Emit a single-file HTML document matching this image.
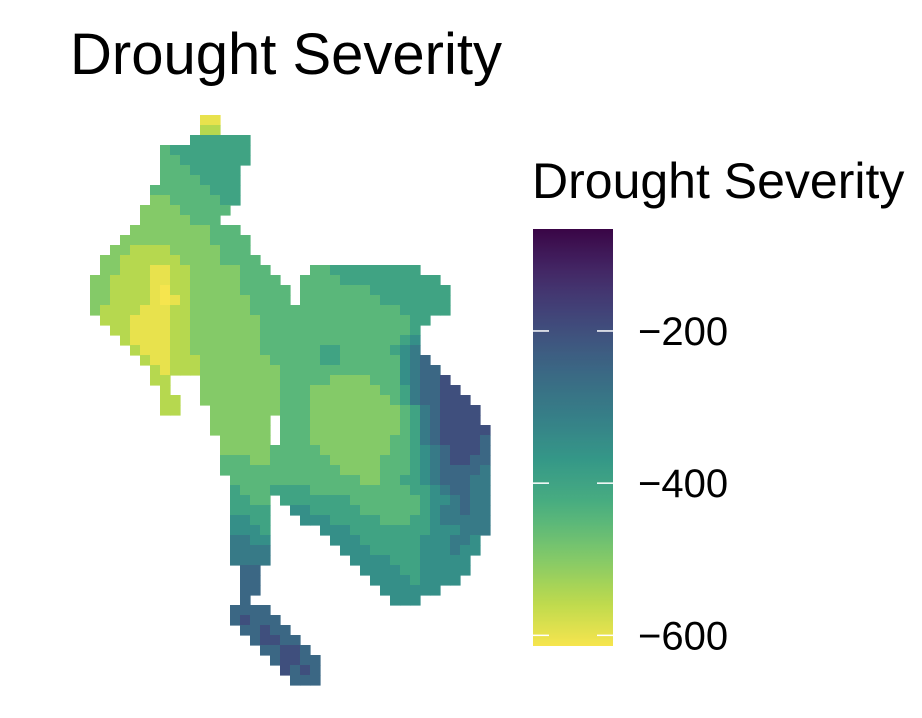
<!DOCTYPE html>
<html><head><meta charset="utf-8"><style>
body{margin:0;background:#fff;}
svg{display:block;font-family:"Liberation Sans",sans-serif;}
#map,#legend rect{filter:saturate(0.78);}
</style></head><body>
<svg id="chart" width="922" height="718">
<text x="70" y="74" font-size="58" fill="#000">Drought Severity</text>
<text x="532" y="198" font-size="50" fill="#000">Drought Severity</text>
<defs><linearGradient id="cbar" x1="0" y1="0" x2="0" y2="1"></linearGradient></defs>
<g id="map"></g>
<g id="legend"></g>
</svg>
<script>
// grid rows: [startColumn, codes]; '.' = no data; code d => value -650 + 50*d
const rows = [
[11,"11"],[11,"22"],[10,"555555"],[7,"455555555"],[7,"445555555"],[7,"44455555"],[7,"44445555"],
[6,"444444555"],[6,"334444455"],[5,"333344444"],[5,"33333444"],[4,"33333333444"],[3,"3333333334444"],
[2,"33222233333444"],[1,"3322222233334444"],
[1,"33222112233333444"+"...."+"44555555555"],
[0,"3322221122333334444"+".."+"44445555555555"],
[0,"33222210223333344444"+"."+"444444455555555"],
[0,"3322221012333333444"+"4"+"."+"444444445555555"],
[0,"3222211122333333444"+"44"+"444444444455555"],
[1,"222111122333333344"+"444444444444455"],
[2,"22111122333333344"+"44444444444445"],
[3,"2111122333333344"+"44444444444456"],
[4,"211122333333344"+"44445544444567"],
[5,"21122233333334"+"444455444444678"],
[6,"2122233333333"+"4444444444446788"],
[6,"22"+"..."+"33333333"+"44444333344467889"],
[7,"2"+"..."+"33333333"+"4443333333"+"44578899"],
[7,"22"+".."+"33333333"+"4443333333"+"345788999"],
[7,"22"+"..."+"3333333"+"4443333333"+"3345789999"],
[12,"333333"+"."+"4443333333"+"3345789999"],
[12,"333333"+"."+"4443333333"+"33457899999"],
[13,"33333"+"."+"4443333333"+"34457899998"],
[13,"33333"+"4"+"4444333333"+"34456789998"],
[13,"44433"+"4"+"4444433333"+"44456789988"],
[13,"44444"+"4"+"4444443333"+"44456788887"],
[14,"4444"+"4"+"4444444433"+"44556788877"],
[14,"5444"+"5"+"5554444444"+"44455678877"],
[14,"5544"+"."+"555555544444445667877"],
[14,"5555"+".."+"66555554444445677877"],
[14,"6655"+"..."+"6665555544455677777"],
[14,"6665"+"....."+"66655555555666777"],
[14,"7766"+"......"+"666555555666776"],
[14,"7777"+"......."+"66655555666766"],
[14,"7777"+"........"+"666655566666"],
[15,"88"+".........."+"66665566666"],
[15,"88"+"..........."+"666656666"],
[15,"88"+"............"+"666666"],
[15,"8"+".............."+"666"],
[14,"8888"],[14,"89888"],[15,"88988"],[16,"89988"],[17,"88998"],[18,"89988"],[19,"9898"],[20,"888"]
];
const legendTicks = [-200, -400, -600];
const legendLabels = ["\u2212200", "\u2212400", "\u2212600"];
const domainMin = -614, domainMax = -66;

const NS="http://www.w3.org/2000/svg";
const vir=["#440154","#482878","#3e4989","#31688e","#26828e","#1f9e89","#35b779","#6ece58","#b5de2b","#fde725"];
function hex(h){return [1,3,5].map(i=>parseInt(h.substr(i,2),16));}
function viridis(t){t=Math.max(0,Math.min(1,t));const s=t*(vir.length-1);const i=Math.min(Math.floor(s),vir.length-2);const f=s-i;
 const a=hex(vir[i]),b=hex(vir[i+1]);return "rgb("+a.map((v,k)=>Math.round(v+(b[k]-v)*f)).join(",")+")";}
function colorOf(v){return viridis((domainMax-v)/(domainMax-domainMin));}
const x0=90,y0=115,cell=10;
const xs=c=>x0+c*cell, ys=r=>y0+r*cell;
const map=document.getElementById('map');
rows.forEach((row,r)=>{
 const start=row[0], s=row[1];
 for(let i=0;i<s.length;i++){
  const ch=s[i]; if(ch===".") continue;
  const v=-650+50*parseInt(ch);
  const el=document.createElementNS(NS,"rect");
  
  
  el.setAttribute("x",xs(start+i));el.setAttribute("y",ys(r));
  el.setAttribute("width",cell+0.6);el.setAttribute("height",cell+0.6);
  el.setAttribute("fill",colorOf(v));
  map.appendChild(el);
 }
});
// colorbar (dark at top = -66, yellow at bottom = -614)
const grad=document.getElementById('cbar');
for(let i=0;i<=20;i++){const st=document.createElementNS(NS,"stop");st.setAttribute("offset",i/20);
 st.setAttribute("stop-color",viridis(i/20));grad.appendChild(st);}
const cbX=533,cbW=80,cbTop=229,cbBot=646;
const ly=v=>cbTop+(domainMax-v)/(domainMax-domainMin)*(cbBot-cbTop);
const lg=document.getElementById('legend');
const bar=document.createElementNS(NS,"rect");


bar.setAttribute("x",cbX);bar.setAttribute("y",cbTop);bar.setAttribute("width",cbW);bar.setAttribute("height",cbBot-cbTop);
bar.setAttribute("fill","url(#cbar)");lg.appendChild(bar);
legendTicks.forEach((t,i)=>{
 const y=ly(t);
 [[cbX,cbX+16],[cbX+cbW-16,cbX+cbW]].forEach(p=>{
  const ln=document.createElementNS(NS,"line");
  
  
  ln.setAttribute("x1",p[0]);ln.setAttribute("x2",p[1]);ln.setAttribute("y1",y);ln.setAttribute("y2",y);
  ln.setAttribute("stroke","#fff");ln.setAttribute("stroke-width","1.5");lg.appendChild(ln);
 });
 const tx=document.createElementNS(NS,"text");
 
 
 tx.setAttribute("x",638);tx.setAttribute("y",y+14);tx.setAttribute("font-size","40");tx.textContent=legendLabels[i];
 lg.appendChild(tx);
});
</script>
</body></html>
